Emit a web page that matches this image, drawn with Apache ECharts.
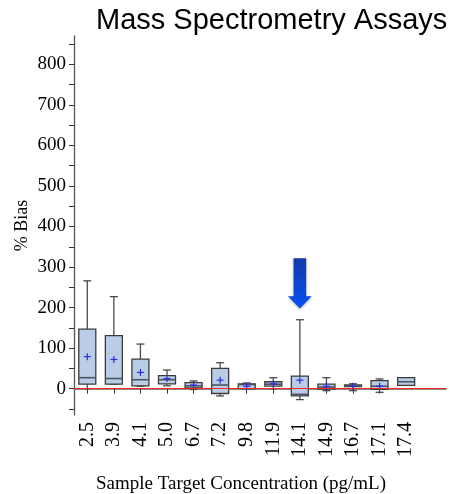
<!DOCTYPE html>
<html>
<head>
<meta charset="utf-8">
<script src="https://cdn.jsdelivr.net/npm/echarts@6/dist/echarts.min.js"></script>
<style>
  html, body { margin: 0; padding: 0; background: #fff; }
  #chart { width: 450px; height: 494px; }
</style>
</head>
<body>
<div id="chart"></div>
<script>
// Sample target concentrations (pg/mL); the last slot is an empty band at the right end
const categories = ['2.5', '3.9', '4.1', '5.0', '6.7', '7.2', '9.8', '11.9', '14.1', '14.9', '16.7', '17.1', '17.4', ''];

// % bias box statistics per concentration
const whiskerLow  = [0, 11, 6, 7, -2, -18, 0, 0, -27, -5, -5, -9, 8];
const q1          = [11, 11, 7, 12, 2, -12, 0, 6, -18, -1, 5, -2, 8];
const median      = [27, 25, 22, 22, 7, 9, 10, 11, -14, 4, 7, 6, 17];
const q3          = [147, 131, 73, 32, 15, 50, 12, 17, 31, 11, 9, 20, 27];
const whiskerHigh = [266, 227, 110, 46, 19, 64, 14, 27, 170, 27, 12, 24, 27];
const mean        = [79, 72, 40, 25, 9, 21, 6, 12, 21, 6, 6, 6, null];

// Y axis ticks and labels
const yTicks  = [-50, 0, 50, 100, 150, 200, 250, 300, 350, 400, 450, 500, 550, 600, 650, 700, 750, 800, 850];
const yLabels = [0, 100, 200, 300, 400, 500, 600, 700, 800];

// Highlight arrow over the 14.1 pg/mL sample: [category index, tip, head base, tail]
const arrowData = [[8, 198, 228, 322]];

const boxData = categories.slice(0, whiskerLow.length).map((c, i) =>
  [i, whiskerLow[i], q1[i], median[i], q3[i], whiskerHigh[i], mean[i]]);

const serif = '"Liberation Serif", "Times New Roman", serif';

const chart = echarts.init(document.getElementById('chart'), null, { renderer: 'canvas' });

function renderBox(params, api) {
  const idx = api.value(0);
  const band = api.size([1, 0])[0];
  const bw = band * 0.64;
  const cw = band * 0.3;
  const pLow = api.coord([idx, api.value(1)]);
  const pQ1 = api.coord([idx, api.value(2)]);
  const pMed = api.coord([idx, api.value(3)]);
  const pQ3 = api.coord([idx, api.value(4)]);
  const pHigh = api.coord([idx, api.value(5)]);
  const cx = pLow[0];
  const whisk = { stroke: '#4a4a4a', lineWidth: 1.3 };
  const children = [];
  if (pHigh[1] < pQ3[1]) {
    children.push({ type: 'line', shape: { x1: cx, y1: pHigh[1], x2: cx, y2: pQ3[1] }, style: whisk });
    children.push({ type: 'line', shape: { x1: cx - cw / 2, y1: pHigh[1], x2: cx + cw / 2, y2: pHigh[1] }, style: whisk });
  }
  if (pLow[1] > pQ1[1]) {
    children.push({ type: 'line', shape: { x1: cx, y1: pQ1[1], x2: cx, y2: pLow[1] }, style: whisk });
  }
  children.push({ type: 'line', shape: { x1: cx - cw / 2, y1: pLow[1], x2: cx + cw / 2, y2: pLow[1] }, style: whisk });
  children.push({
    type: 'rect',
    shape: { x: cx - bw / 2, y: pQ3[1], width: bw, height: Math.max(pQ1[1] - pQ3[1], 1) },
    style: { fill: '#b9cde6', stroke: '#3c3c3c', lineWidth: 1.3 }
  });
  children.push({
    type: 'line',
    shape: { x1: cx - bw / 2, y1: pMed[1], x2: cx + bw / 2, y2: pMed[1] },
    style: { stroke: '#4d5560', lineWidth: 1.6 }
  });
  const m = api.value(6);
  if (m !== null && !isNaN(m)) {
    const pm = api.coord([idx, m]);
    const s = 3.5;
    children.push({ type: 'line', shape: { x1: pm[0] - s, y1: pm[1], x2: pm[0] + s, y2: pm[1] }, style: { stroke: '#2a2af0', lineWidth: 1.2 } });
    children.push({ type: 'line', shape: { x1: pm[0], y1: pm[1] - s, x2: pm[0], y2: pm[1] + s }, style: { stroke: '#2a2af0', lineWidth: 1.2 } });
  }
  return { type: 'group', children };
}

function renderArrow(params, api) {
  const idx = api.value(0);
  const tip = api.coord([idx, api.value(1)]);
  const base = api.coord([idx, api.value(2)]);
  const tail = api.coord([idx, api.value(3)]);
  const cx = tip[0];
  const sh = 6.3, hh = 11.8;
  return {
    type: 'polygon',
    shape: {
      points: [
        [cx - sh, tail[1]], [cx + sh, tail[1]], [cx + sh, base[1]], [cx + hh, base[1]],
        [cx, tip[1]], [cx - hh, base[1]], [cx - sh, base[1]]
      ]
    },
    style: {
      fill: new echarts.graphic.LinearGradient(0, 0, 0, 1, [
        { offset: 0, color: '#123aa8' },
        { offset: 1, color: '#0650f4' }
      ]),
      shadowBlur: 3,
      shadowColor: 'rgba(0,0,0,0.35)',
      shadowOffsetY: 1
    }
  };
}

const option = {
  animation: false,
  backgroundColor: '#ffffff',
  title: {
    text: 'Mass Spectrometry Assays',
    left: 91,
    top: 1,
    textStyle: { fontFamily: '"Liberation Sans", Arial, sans-serif', fontSize: 29, fontWeight: 'normal', color: '#000' }
  },
  grid: { left: 74, right: 4, top: 36, bottom: 79, outerBoundsMode: 'none', containLabel: false },
  xAxis: {
    type: 'category',
    data: categories,
    boundaryGap: true,
    name: 'Sample Target Concentration (pg/mL)',
    nameLocation: 'middle',
    nameGap: 60,
    nameTextStyle: { fontFamily: serif, fontSize: 19, color: '#000', padding: [0, 38, 0, 0] },
    axisLine: { lineStyle: { color: '#8a8a8a', width: 2 } },
    axisTick: {
      show: true, alignWithLabel: true, length: 5, inside: false,
      interval: (index) => index < 12,
      lineStyle: { color: '#333', width: 1 }
    },
    axisLabel: {
      interval: 0, rotate: 90, margin: 7,
      fontFamily: serif, fontSize: 20, color: '#000'
    },
    splitLine: { show: false }
  },
  yAxis: {
    type: 'value',
    min: -65,
    max: 870,
    name: '% Bias',
    nameLocation: 'middle',
    nameGap: 43,
    nameMoveOverlap: false,
    nameRotate: 90,
    nameTextStyle: { fontFamily: serif, fontSize: 18, color: '#000' },
    axisLine: { show: true, lineStyle: { color: '#555', width: 1.3 } },
    axisTick: { show: true, length: 5, customValues: yTicks, lineStyle: { color: '#333', width: 1 } },
    axisLabel: { margin: 8, customValues: yLabels, fontFamily: serif, fontSize: 19, color: '#000' },
    splitLine: { show: false }
  },
  series: [
    {
      // zero-bias reference line
      type: 'line',
      data: [],
      z: 1,
      markLine: {
        silent: true,
        symbol: 'none',
        label: { show: false },
        lineStyle: { color: '#ff2020', width: 1.2, type: 'solid' },
        data: [{ yAxis: 0 }]
      }
    },
    {
      type: 'custom',
      z: 3,
      renderItem: renderBox,
      encode: { x: 0, y: [1, 2, 3, 4, 5] },
      data: boxData
    },
    {
      type: 'custom',
      z: 4,
      renderItem: renderArrow,
      encode: { x: 0, y: [1, 2, 3] },
      data: arrowData
    }
  ]
};

chart.setOption(option);
</script>
</body>
</html>
